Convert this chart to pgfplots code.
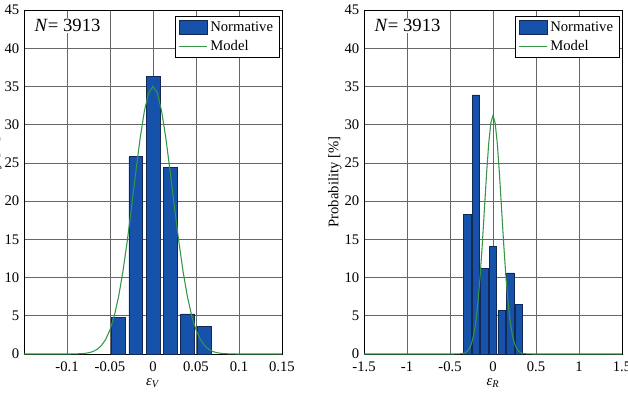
\documentclass[border=0pt]{standalone}
\usepackage{fontspec}
\setmainfont{Liberation Serif}
\usepackage{pgfplots}
\pgfplotsset{compat=1.18}

\definecolor{barblue}{RGB}{22,82,170}
\definecolor{baredge}{RGB}{20,40,85}
\definecolor{modelgreen}{RGB}{50,150,70}

\pgfplotsset{
  histo/.style={
    scale only axis, width=193.5pt, height=258pt,
    ymin=0, ymax=45, ytick={0,5,...,45},
    grid=major, major grid style={color=black!60, line width=0.5pt},
    axis line style={line width=0.7pt},
    major tick length=0pt,
    font=\fontsize{11}{13}\selectfont,
    /pgf/number format/assume math mode=true,
    ylabel={Probability [\%]},
    ylabel style={yshift=-4.5pt},
    xticklabel style={yshift=-2.5pt},
    xlabel style={yshift=2pt},
    legend cell align=left,
    legend style={at={(rel axis cs:0.99,0.982)}, anchor=north east,
      draw=black, line width=0.6pt, inner xsep=2.5pt, inner ysep=2pt,
      row sep=1pt, font=\fontsize{11}{13}\selectfont},
  },
  barstyle/.style={ybar, bar width=#1, fill=barblue, draw=baredge, line width=0.5pt,
    legend image code/.code={\draw[##1,/tikz/.cd] (0pt,-5pt) rectangle (21pt,5.5pt);}},
  modelstyle/.style={modelgreen, line width=0.8pt, mark=none,
    legend image code/.code={\draw[##1,/tikz/.cd] (0pt,0pt) -- (21pt,0pt);}},
}

\begin{document}
\begin{tikzpicture}
\useasboundingbox (0,0) rectangle (471pt,294.75pt);

% voltage error histogram
\begin{axis}[histo, at={(18pt,29.25pt)}, anchor=south west,
  xmin=-0.15, xmax=0.15,
  xtick={-0.1,-0.05,0,0.05,0.1,0.15},
  xticklabels={-0.1,-0.05,0,0.05,0.1,0.15},
  xlabel={\textit{ε}\textsubscript{\textit{V}}}]
\addplot[barstyle=0.016] coordinates {
  (-0.04,4.75) (-0.02,25.8) (0,36.3) (0.02,24.4) (0.04,5.25) (0.06,3.57)};
\addlegendentry{Normative}
\addplot[modelstyle] coordinates {
  (-0.15,0) (-0.1,0) (-0.09,0.01) (-0.08,0.07) (-0.075,0.16) (-0.07,0.31)
  (-0.065,0.60) (-0.06,1.10) (-0.055,1.91) (-0.05,3.16) (-0.045,4.99)
  (-0.04,7.51) (-0.035,10.77) (-0.03,14.73) (-0.025,19.18) (-0.02,23.82)
  (-0.015,28.19) (-0.01,31.79) (-0.005,34.17) (0,35.0)
  (0.005,34.17) (0.01,31.79) (0.015,28.19) (0.02,23.82) (0.025,19.18)
  (0.03,14.73) (0.035,10.77) (0.04,7.51) (0.045,4.99) (0.05,3.16)
  (0.055,1.91) (0.06,1.10) (0.065,0.60) (0.07,0.31) (0.075,0.16)
  (0.08,0.07) (0.09,0.01) (0.1,0) (0.15,0)};
\addlegendentry{Model}
\node[anchor=base west, fill=white, inner sep=1pt, font=\fontsize{14}{16}\selectfont]
  at (rel axis cs:0.035,0.937) {\textit{N}= 3913};
\end{axis}

% resistance error histogram
\begin{axis}[histo, at={(273pt,29.25pt)}, anchor=south west,
  xmin=-1.5, xmax=1.5,
  xtick={-1.5,-1,-0.5,0,0.5,1,1.5},
  xticklabels={-1.5,-1,-0.5,0,0.5,1,1.5},
  xlabel={\textit{ε}\textsubscript{\textit{R}}}]
\addplot[barstyle=0.085] coordinates {
  (-0.3,18.27) (-0.2,33.9) (-0.1,11.2) (0,14.05) (0.1,5.66) (0.2,10.6) (0.3,6.45)};
\addlegendentry{Normative}
\addplot[modelstyle] coordinates {
  (-1.5,0) (-0.5,0) (-0.4,0.01) (-0.35,0.07) (-0.325,0.16) (-0.3,0.35)
  (-0.275,0.71) (-0.25,1.37) (-0.225,2.48) (-0.2,4.22) (-0.175,6.75)
  (-0.15,10.13) (-0.125,14.28) (-0.1,18.92) (-0.075,23.55) (-0.05,27.53)
  (-0.025,30.24) (0,31.2)
  (0.025,30.24) (0.05,27.53) (0.075,23.55) (0.1,18.92) (0.125,14.28)
  (0.15,10.13) (0.175,6.75) (0.2,4.22) (0.225,2.48) (0.25,1.37)
  (0.275,0.71) (0.3,0.35) (0.325,0.16) (0.35,0.07) (0.4,0.01) (0.5,0) (1.5,0)};
\addlegendentry{Model}
\node[anchor=base west, fill=white, inner sep=1pt, font=\fontsize{14}{16}\selectfont]
  at (rel axis cs:0.035,0.937) {\textit{N}= 3913};
\end{axis}
\end{tikzpicture}
\end{document}
